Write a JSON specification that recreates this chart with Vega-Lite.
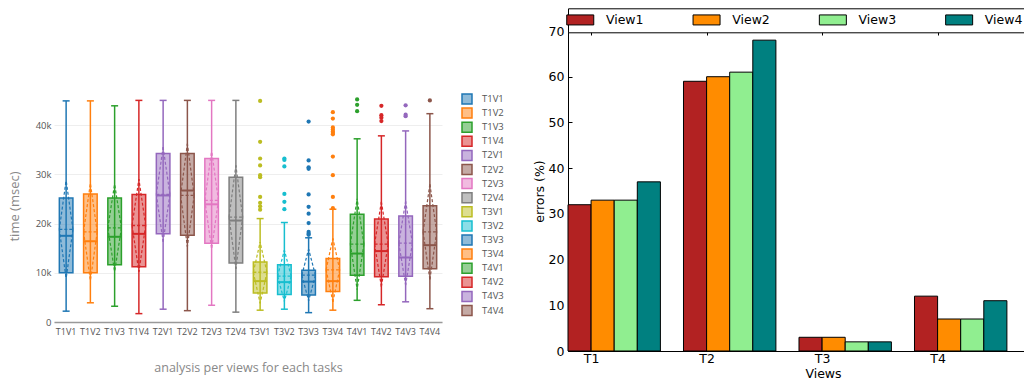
{
  "$schema": "https://vega.github.io/schema/vega-lite/v6.json",
  "background": "white",
  "padding": {"left": 8, "top": 7, "right": 0, "bottom": 0},
  "config": {"view": {"stroke": null}, "font": "DejaVu Sans"},
  "spacing": 29,
  "resolve": {"scale": {"color": "independent"}, "legend": {"color": "independent"}},
  "datasets": {
    "boxes": [
      {"cat": "T1V1", "lo": 2200, "q1": 10000, "med": 17500, "q3": 25200, "hi": 44900, "mean": 18800, "sdlo": 8800, "sdhi": 28800},
      {"cat": "T1V2", "lo": 3900, "q1": 10000, "med": 16400, "q3": 26000, "hi": 44900, "mean": 18300, "sdlo": 8400, "sdhi": 28200},
      {"cat": "T1V3", "lo": 3200, "q1": 11600, "med": 17300, "q3": 25200, "hi": 43900, "mean": 19100, "sdlo": 10200, "sdhi": 28000},
      {"cat": "T1V4", "lo": 1700, "q1": 11200, "med": 17900, "q3": 25900, "hi": 45000, "mean": 19600, "sdlo": 10200, "sdhi": 29000},
      {"cat": "T2V1", "lo": 2600, "q1": 17900, "med": 25700, "q3": 34200, "hi": 45000, "mean": 25900, "sdlo": 16300, "sdhi": 35500},
      {"cat": "T2V2", "lo": 2300, "q1": 17600, "med": 26700, "q3": 34200, "hi": 45000, "mean": 25700, "sdlo": 15300, "sdhi": 36200},
      {"cat": "T2V3", "lo": 3400, "q1": 16000, "med": 23900, "q3": 33200, "hi": 45000, "mean": 24700, "sdlo": 14800, "sdhi": 34800},
      {"cat": "T2V4", "lo": 2000, "q1": 12000, "med": 20600, "q3": 29400, "hi": 45000, "mean": 21300, "sdlo": 10800, "sdhi": 31800},
      {"cat": "T3V1", "lo": 2400, "q1": 5900, "med": 8300, "q3": 12200, "hi": 21000, "mean": 10100, "sdlo": 3800, "sdhi": 16200},
      {"cat": "T3V2", "lo": 2600, "q1": 5600, "med": 8100, "q3": 11600, "hi": 20200, "mean": 9300, "sdlo": 4200, "sdhi": 14600},
      {"cat": "T3V3", "lo": 1900, "q1": 5500, "med": 8200, "q3": 10500, "hi": 17100, "mean": 9500, "sdlo": 4300, "sdhi": 14800},
      {"cat": "T3V4", "lo": 2400, "q1": 6200, "med": 8300, "q3": 12900, "hi": 22900, "mean": 10600, "sdlo": 4100, "sdhi": 17000},
      {"cat": "T4V1", "lo": 4400, "q1": 9500, "med": 13900, "q3": 21900, "hi": 37200, "mean": 15800, "sdlo": 6600, "sdhi": 25000},
      {"cat": "T4V2", "lo": 3500, "q1": 9200, "med": 14400, "q3": 20900, "hi": 37800, "mean": 15800, "sdlo": 7200, "sdhi": 24400},
      {"cat": "T4V3", "lo": 4100, "q1": 9300, "med": 13100, "q3": 21500, "hi": 38800, "mean": 16000, "sdlo": 7500, "sdhi": 24500},
      {"cat": "T4V4", "lo": 2700, "q1": 10800, "med": 15600, "q3": 23600, "hi": 42300, "mean": 18300, "sdlo": 8600, "sdhi": 28000}
    ],
    "outliers": [
      {"cat": "T3V1", "v": 44900}, {"cat": "T3V1", "v": 36600}, {"cat": "T3V1", "v": 33200}, {"cat": "T3V1", "v": 31800}, {"cat": "T3V1", "v": 29800}, {"cat": "T3V1", "v": 29400}, {"cat": "T3V1", "v": 25400}, {"cat": "T3V1", "v": 24200}, {"cat": "T3V1", "v": 23500}, {"cat": "T3V1", "v": 22800},
      {"cat": "T3V2", "v": 33200}, {"cat": "T3V2", "v": 32900}, {"cat": "T3V2", "v": 31600}, {"cat": "T3V2", "v": 26000}, {"cat": "T3V2", "v": 24400}, {"cat": "T3V2", "v": 22900},
      {"cat": "T3V3", "v": 40700}, {"cat": "T3V3", "v": 32800}, {"cat": "T3V3", "v": 31400}, {"cat": "T3V3", "v": 31100}, {"cat": "T3V3", "v": 25900}, {"cat": "T3V3", "v": 23400}, {"cat": "T3V3", "v": 22000}, {"cat": "T3V3", "v": 20100}, {"cat": "T3V3", "v": 18300}, {"cat": "T3V3", "v": 17900}, {"cat": "T3V3", "v": 17700},
      {"cat": "T3V4", "v": 42600}, {"cat": "T3V4", "v": 41300}, {"cat": "T3V4", "v": 39500}, {"cat": "T3V4", "v": 39100}, {"cat": "T3V4", "v": 38700}, {"cat": "T3V4", "v": 38400}, {"cat": "T3V4", "v": 38100}, {"cat": "T3V4", "v": 33600}, {"cat": "T3V4", "v": 29800}, {"cat": "T3V4", "v": 25400}, {"cat": "T3V4", "v": 23100},
      {"cat": "T4V1", "v": 45200}, {"cat": "T4V1", "v": 44100}, {"cat": "T4V1", "v": 42800},
      {"cat": "T4V2", "v": 43900}, {"cat": "T4V2", "v": 42000}, {"cat": "T4V2", "v": 41500}, {"cat": "T4V2", "v": 40800},
      {"cat": "T4V3", "v": 44000}, {"cat": "T4V3", "v": 42100}, {"cat": "T4V3", "v": 41800},
      {"cat": "T4V4", "v": 45000}
    ],
    "errors": [
      {"task": "T1", "view": "View1", "err": 32}, {"task": "T1", "view": "View2", "err": 33}, {"task": "T1", "view": "View3", "err": 33}, {"task": "T1", "view": "View4", "err": 37},
      {"task": "T2", "view": "View1", "err": 59}, {"task": "T2", "view": "View2", "err": 60}, {"task": "T2", "view": "View3", "err": 61}, {"task": "T2", "view": "View4", "err": 68},
      {"task": "T3", "view": "View1", "err": 3}, {"task": "T3", "view": "View2", "err": 3}, {"task": "T3", "view": "View3", "err": 2}, {"task": "T3", "view": "View4", "err": 2},
      {"task": "T4", "view": "View1", "err": 12}, {"task": "T4", "view": "View2", "err": 7}, {"task": "T4", "view": "View3", "err": 7}, {"task": "T4", "view": "View4", "err": 11}
    ]
  },
  "hconcat": [
    {
      "name": "L",
      "width": 388,
      "height": 291,
      "data": {"name": "boxes"},
      "encoding": {
        "x": {
          "field": "cat", "type": "nominal", "sort": null,
          "scale": {"domain": ["T1V1","T1V2","T1V3","T1V4","T2V1","T2V2","T2V3","T2V4","T3V1","T3V2","T3V3","T3V4","T4V1","T4V2","T4V3","T4V4"], "paddingInner": 0, "paddingOuter": 0},
          "axis": {"title": "analysis per views for each tasks", "labelAngle": 0, "ticks": false, "domainColor": "#999", "domainWidth": 1.5, "labelFont": "Open Sans", "labelFontSize": 9, "labelColor": "#555", "labelPadding": 5, "titleFont": "Open Sans", "titleFontSize": 12.5, "titleFontWeight": "normal", "titleColor": "#888", "titlePadding": 25}
        },
        "color": {
          "field": "cat", "type": "nominal",
          "scale": {"domain": ["T1V1","T1V2","T1V3","T1V4","T2V1","T2V2","T2V3","T2V4","T3V1","T3V2","T3V3","T3V4","T4V1","T4V2","T4V3","T4V4"], "range": ["#1f77b4","#ff7f0e","#2ca02c","#d62728","#9467bd","#8c564b","#e377c2","#7f7f7f","#bcbd22","#17becf","#1f77b4","#ff7f0e","#2ca02c","#d62728","#9467bd","#8c564b"]},
          "legend": {"orient": "none", "legendX": 407, "legendY": 62, "title": null, "symbolType": "square", "symbolSize": 100, "symbolStrokeWidth": 1.5, "labelFont": "Open Sans", "labelFontSize": 9.5, "labelColor": "#555", "labelOffset": 9, "rowPadding": -1.9, "padding": 0,
            "encode": {"symbols": {"update": {"fillOpacity": {"value": 0.5}, "strokeOpacity": {"value": 1}}}}}
        }
      },
      "layer": [
        {
          "mark": {"type": "rule", "strokeWidth": 1.5},
          "encoding": {
            "y": {"field": "lo", "type": "quantitative", "title": "time (msec)",
              "scale": {"domain": [0, 59090], "nice": false, "zero": false},
              "axis": {"values": [0, 10000, 20000, 30000, 40000], "labelExpr": "datum.value == 0 ? '0' : (datum.value / 1000) + 'k'", "domain": false, "ticks": false, "gridColor": "#eee", "labelFont": "Open Sans", "labelFontSize": 9.5, "labelColor": "#555", "labelPadding": 3, "titleFont": "Open Sans", "titleFontSize": 13, "titleFontWeight": "normal", "titleColor": "#888", "titlePadding": 14, "titleY": 175}},
            "y2": {"field": "hi"}
          }
        },
        {
          "mark": {"type": "rule", "strokeWidth": 1.5, "xOffset": -3.5, "x2Offset": 3.5},
          "encoding": {"x2": {"field": "cat"}, "y": {"field": "lo", "type": "quantitative", "title": "time (msec)"}}
        },
        {
          "mark": {"type": "rule", "strokeWidth": 1.5, "xOffset": -3.5, "x2Offset": 3.5},
          "encoding": {"x2": {"field": "cat"}, "y": {"field": "hi", "type": "quantitative", "title": "time (msec)"}}
        },
        {
          "mark": {"type": "bar", "width": {"band": 0.56}, "fillOpacity": 0.5},
          "encoding": {"y": {"field": "q1", "type": "quantitative", "title": "time (msec)"}, "y2": {"field": "q3"}}
        },
        {
          "mark": {"type": "bar", "filled": false, "width": {"band": 0.56}, "strokeWidth": 1.5},
          "encoding": {"y": {"field": "q1", "type": "quantitative", "title": "time (msec)"}, "y2": {"field": "q3"}}
        },
        {
          "mark": {"type": "rule", "strokeWidth": 2, "xOffset": -6.8, "x2Offset": 6.8},
          "encoding": {"x2": {"field": "cat"}, "y": {"field": "med", "type": "quantitative", "title": "time (msec)"}}
        },
        {
          "mark": {"type": "rule", "strokeWidth": 1.3, "strokeDash": [3, 2], "xOffset": -6.8, "x2Offset": 6.8},
          "encoding": {"x2": {"field": "cat"}, "y": {"field": "mean", "type": "quantitative", "title": "time (msec)"}}
        },
        {
          "mark": {"type": "rule", "strokeWidth": 1.2, "strokeDash": [3, 2], "xOffset": -6.8, "x2Offset": 0},
          "encoding": {"x2": {"field": "cat"}, "y": {"field": "mean", "type": "quantitative", "title": "time (msec)"}, "y2": {"field": "sdhi"}}
        },
        {
          "mark": {"type": "rule", "strokeWidth": 1.2, "strokeDash": [3, 2], "xOffset": 6.8, "x2Offset": 0},
          "encoding": {"x2": {"field": "cat"}, "y": {"field": "mean", "type": "quantitative", "title": "time (msec)"}, "y2": {"field": "sdhi"}}
        },
        {
          "mark": {"type": "rule", "strokeWidth": 1.2, "strokeDash": [3, 2], "xOffset": -6.8, "x2Offset": 0},
          "encoding": {"x2": {"field": "cat"}, "y": {"field": "mean", "type": "quantitative", "title": "time (msec)"}, "y2": {"field": "sdlo"}}
        },
        {
          "mark": {"type": "rule", "strokeWidth": 1.2, "strokeDash": [3, 2], "xOffset": 6.8, "x2Offset": 0},
          "encoding": {"x2": {"field": "cat"}, "y": {"field": "mean", "type": "quantitative", "title": "time (msec)"}, "y2": {"field": "sdlo"}}
        },
        {
          "data": {"name": "outliers"},
          "mark": {"type": "circle", "size": 18, "opacity": 1},
          "encoding": {"y": {"field": "v", "type": "quantitative", "title": "time (msec)"}}
        }
      ]
    },
    {
      "name": "R",
      "width": 510,
      "height": 320,
      "data": {"name": "errors"},
      "encoding": {
        "xOffset": {"field": "view", "type": "nominal", "scale": {"paddingInner": 0, "paddingOuter": 0}},
        "color": {
          "field": "view", "type": "nominal",
          "scale": {"domain": ["View1", "View2", "View3", "View4"], "range": ["#b22222", "#ff8c00", "#90ee90", "#008080"]},
          "legend": {"orient": "none", "legendX": 0, "legendY": -22.7, "direction": "horizontal", "columns": 4, "title": null,
            "symbolType": "M-2.7,-1L2.7,-1L2.7,1L-2.7,1Z", "symbolSize": 100, "symbolOffset": 1, "symbolStrokeColor": "black", "symbolStrokeWidth": 1,
            "labelOffset": 19.4, "labelFont": "DejaVu Sans", "labelFontSize": 12.5, "labelColor": "black", "labelLimit": 0,
            "columnPadding": 46.3, "padding": 5, "strokeColor": "black", "fillColor": "white"}
        }
      },
      "layer": [
        {
          "mark": {"type": "bar", "stroke": "black", "strokeWidth": 1},
          "encoding": {
            "x": {"field": "task", "type": "nominal",
              "scale": {"paddingInner": 0.2, "paddingOuter": 0.3078, "align": 0},
              "axis": {"title": "Views", "labelAngle": 0, "tickOffset": -23.1, "tickSize": -4, "tickColor": "black", "domainColor": "black", "labelColor": "black", "labelFont": "DejaVu Sans", "labelFontSize": 12.5, "labelPadding": 5.5, "titleFont": "DejaVu Sans", "titleFontSize": 12.5, "titleFontWeight": "normal", "titleColor": "black", "titlePadding": 2}},
            "y": {"field": "err", "type": "quantitative",
              "scale": {"domain": [0, 70], "nice": false},
              "axis": {"title": "errors (%)", "values": [0, 10, 20, 30, 40, 50, 60, 70], "grid": false, "tickSize": -4, "tickColor": "black", "domainColor": "black", "labelColor": "black", "labelFont": "DejaVu Sans", "labelFontSize": 12.5, "labelPadding": 8, "titleFont": "DejaVu Sans", "titleFontSize": 12.5, "titleFontWeight": "normal", "titleColor": "black", "titlePadding": 2}}
          }
        },
        {
          "mark": {"type": "bar", "opacity": 0},
          "encoding": {
            "x": {"field": "task", "type": "nominal",
              "scale": {"paddingInner": 0.2, "paddingOuter": 0.3078, "align": 0},
              "axis": {"orient": "top", "title": null, "labels": false, "tickOffset": -23.1, "tickSize": -4, "tickColor": "black", "domainColor": "black"}},
            "y": {"field": "err", "type": "quantitative",
              "scale": {"domain": [0, 70], "nice": false},
              "axis": {"orient": "right", "title": null, "labels": false, "values": [0, 10, 20, 30, 40, 50, 60, 70], "grid": false, "tickSize": -4, "tickColor": "black", "domainColor": "black"}}
          }
        }
      ],
      "resolve": {"axis": {"x": "independent", "y": "independent"}}
    }
  ]
}
